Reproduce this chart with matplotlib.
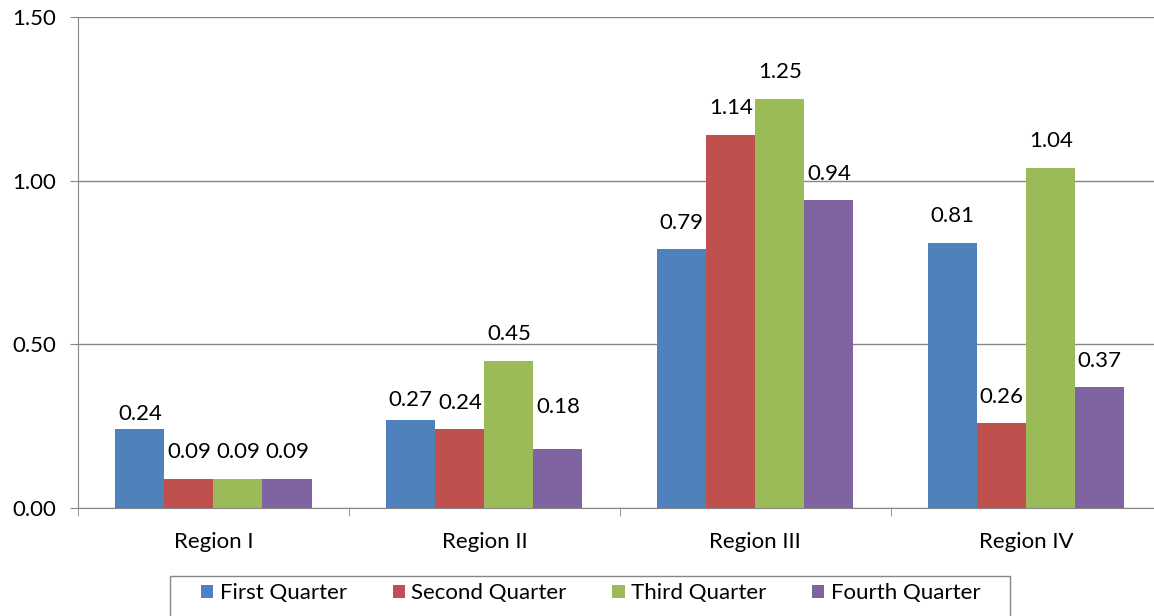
import matplotlib.pyplot as plt
from matplotlib.patches import Rectangle
import numpy as np

plt.rcParams['font.family'] = ['Lato', 'DejaVu Sans']

regions = ["Region I", "Region II", "Region III", "Region IV"]
series = ["First Quarter", "Second Quarter", "Third Quarter", "Fourth Quarter"]
first_q = [0.24, 0.27, 0.79, 0.81]
second_q = [0.09, 0.24, 1.14, 0.26]
third_q = [0.09, 0.45, 1.25, 1.04]
fourth_q = [0.09, 0.18, 0.94, 0.37]
colors = ["#4F81BD", "#C0504D", "#9BBB59", "#8064A2"]

# small vertical nudges (points) where the labels were shifted to avoid overlap
nudge = {(0, 0): -8, (0, 1): -5, (3, 1): 11}

fig = plt.figure(figsize=(11.54, 6.16), dpi=100)
ax = fig.add_axes([0.0676, 0.1753, 0.939, 0.7971])

x = np.arange(len(regions))
w = 0.181
allvals = [first_q, second_q, third_q, fourth_q]
for i, vals in enumerate(allvals):
    pos = x + (i - 1.5) * w
    ax.bar(pos, vals, w, color=colors[i], label=series[i], zorder=3)
    for j, (p, v) in enumerate(zip(pos, vals)):
        off = 19 + nudge.get((i, j), 0)
        ax.annotate("%.2f" % v, (p, v), xytext=(0, off), textcoords="offset points",
                    ha="center", va="center", fontsize=16)

ax.set_xlim(-0.5, 3.5)
ax.set_ylim(0, 1.5)
ax.set_yticks([0, 0.5, 1.0, 1.5])
ax.set_yticklabels(["0.00", "0.50", "1.00", "1.50"], fontsize=16)
ax.yaxis.grid(True, color="#868686", linewidth=1, zorder=0)
ax.set_xticks(x)
ax.set_xticklabels(regions, fontsize=16)
ax.set_xticks(np.arange(-0.5, 4, 1), minor=True)
ax.tick_params(axis="x", which="major", length=0, pad=17)
ax.tick_params(axis="x", which="minor", length=6, color="#868686")
ax.tick_params(axis="y", length=6, color="#868686", pad=10)
for s in ["top", "right"]:
    ax.spines[s].set_visible(False)
ax.spines["left"].set_color("#868686")
ax.spines["bottom"].set_color("#868686")

leg = fig.legend(loc="center", bbox_to_anchor=(0.512, 0.037), ncol=4, fontsize=16,
                 frameon=False, handlelength=0.55, handleheight=0.55,
                 columnspacing=2.05, handletextpad=0.3)
# legend box, wider than the entries as in the original
fig.patches.append(Rectangle((170 / 1154, -0.01), 840 / 1154, 46 / 616,
                             transform=fig.transFigure, fill=False,
                             edgecolor="#868686", linewidth=1))

fig.savefig("out.png", dpi=100)
